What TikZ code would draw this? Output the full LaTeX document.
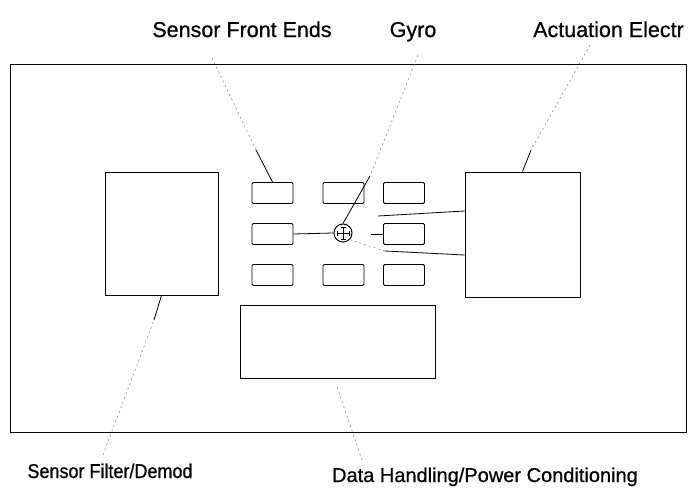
\documentclass[tikz,border=0pt]{standalone}
\usepackage{fontspec}
\setmainfont{Liberation Sans}
\newfontfamily\lblfont{Liberation Sans}[FakeBold=0.7]
\begin{document}
\begin{tikzpicture}[x=1pt,y=-1pt,
  frame/.style={draw, line width=0.9pt, inner sep=0pt},
  unit/.style={draw, line width=0.9pt, inner sep=0pt, rounded corners=1.2pt,
               minimum width=41pt, minimum height=21pt},
  bigbox/.style={draw, line width=0.9pt, inner sep=0pt},
  label/.style={font=\lblfont\fontsize{20}{24}\selectfont, inner sep=0pt},
  toplabel/.style={font=\lblfont\fontsize{21.5}{26}\selectfont, inner sep=0pt},
  wire/.style={line width=0.8pt},
  leadsolid/.style={line width=0.8pt},
  leadfaint/.style={line width=0.6pt, black!45, dash pattern=on 2pt off 3pt}]
\useasboundingbox (0,0) rectangle (692,498);

% enclosure
\node[frame, minimum width=676pt, minimum height=368pt] (enc) at (348,248) {};

% major assemblies
\node[bigbox, minimum width=113pt, minimum height=123pt] (filt) at (161.5,233.5) {};
\node[bigbox, minimum width=115pt, minimum height=125pt] (act) at (522.5,234.5) {};
\node[bigbox, minimum width=195pt, minimum height=73pt] (data) at (337.5,341.5) {};

% sensor front-end cards
\node[unit] (b11) at (272.5,193) {};
\node[unit] (b12) at (343.5,193) {};
\node[unit] (b13) at (404,193) {};
\node[unit] (b21) at (272.5,234) {};
\node[unit] (b23) at (404,234) {};
\node[unit] (b31) at (272.5,275) {};
\node[unit] (b32) at (343.5,275) {};
\node[unit] (b33) at (404,275) {};

% gyro symbol
\node[draw, circle, line width=1pt, minimum size=18pt, inner sep=0pt] (gyro) at (343,233) {};
\draw[line width=0.9pt] (gyro.center) ++(-6,0) -- ++(12,0)
      (gyro.center) ++(0,-6) -- ++(0,12);
\draw[line width=0.9pt]
  (gyro.center) ++(-6,-2.5) -- ++(0,5)
  (gyro.center) ++(6,-2.5) -- ++(0,5)
  (gyro.center) ++(-2.5,-6) -- ++(5,0)
  (gyro.center) ++(-2.5,6) -- ++(5,0);

% wiring
\coordinate (g3) at (371,234);
\coordinate (gu) at (378,216);
\coordinate (gl) at (385,251);
\draw[wire] (b21.east) -- (gyro.west);
\draw[wire] (g3) -- (b23.west);
\draw[wire] (gu) -- (act.west |- 0,211);
\draw[leadfaint] (gyro.south east) -- (gl);
\draw[wire] (gl) -- (act.west |- 0,255);

% labels
\node[toplabel, anchor=base] (lsfe) at (242,37) {Sensor Front Ends};
\node[toplabel, anchor=base] (lgyro) at (413,37) {Gyro};
\node[toplabel, anchor=base west] (lact) at (533,37) {Actuation Electr};
\node[label, anchor=base] (lfilt) at (110,478) {\scalebox{0.9}[1]{Sensor Filter/Demod}};
\node[label, anchor=base] (ldata) at (485,482) {Data Handling/Power Conditioning};

% leader lines
\coordinate (s0) at (212,58);  \coordinate (s1) at (256,150);
\coordinate (y0) at (418,55);  \coordinate (y1) at (370,176);
\coordinate (a0) at (590,45);  \coordinate (a1) at (531,150);
\coordinate (f0) at (103,455); \coordinate (f1) at (154,320);
\coordinate (d0) at (362,460); \coordinate (d1) at (336,384);
\draw[leadfaint] (s0) -- (s1);
\draw[leadsolid] (s1) -- (b11.north);
\draw[leadfaint] (y0) -- (y1);
\draw[leadsolid] (y1) -- (gyro.north);
\draw[leadfaint] (a0) -- (a1);
\draw[leadsolid] (a1) -- (act.north);
\draw[leadfaint] (f0) -- (f1);
\draw[leadsolid] (f1) -- (filt.south);
\draw[leadfaint] (d0) -- (d1);
\end{tikzpicture}
\end{document}
